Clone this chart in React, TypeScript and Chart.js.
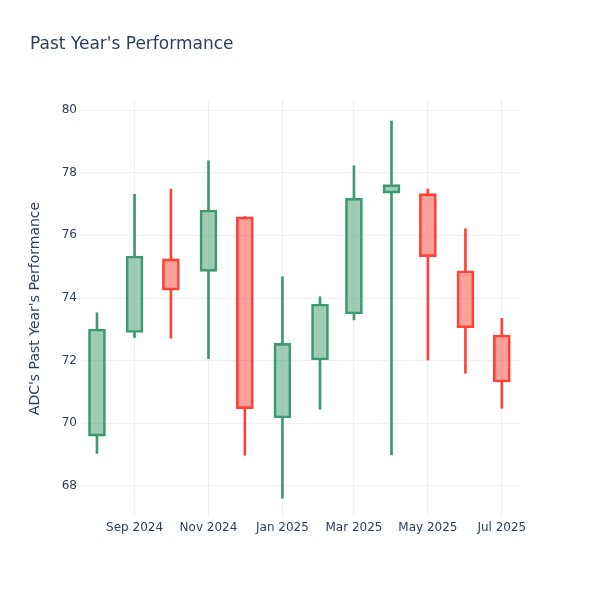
import React, { useEffect, useRef } from "react";
import { Chart, registerables } from "chart.js";

Chart.register(...registerables);

const dates = [
  "2024-08-01", "2024-09-01", "2024-10-01", "2024-11-01", "2024-12-01", "2025-01-01",
  "2025-02-01", "2025-03-01", "2025-04-01", "2025-05-01", "2025-06-01", "2025-07-01",
];
const openV = [69.59, 72.9, 75.25, 74.85, 76.59, 70.17, 72.02, 73.49, 77.35, 77.33, 74.87, 72.82];
const highV = [73.53, 77.31, 77.47, 78.38, 76.6, 74.68, 74.04, 78.22, 79.65, 77.48, 76.21, 73.35];
const lowV = [69.04, 72.74, 72.72, 72.06, 68.98, 67.61, 70.45, 73.3, 68.99, 72.02, 71.6, 70.48];
const closeV = [73.01, 75.34, 74.25, 76.81, 70.47, 72.55, 73.81, 77.19, 77.62, 75.32, 73.05, 71.32];

const xTickDates = ["2024-09-01", "2024-11-01", "2025-01-01", "2025-03-01", "2025-05-01", "2025-07-01"];
const xTickLabels = ["Sep 2024", "Nov 2024", "Jan 2025", "Mar 2025", "May 2025", "Jul 2025"];
const yTicks = [68, 70, 72, 74, 76, 78, 80];

const TITLE = "Past Year's Performance";
const Y_TITLE = "ADC's Past Year's Performance";

const GREEN = "#3D9970";
const GREEN_FILL = "rgba(61,153,112,0.5)";
const RED = "#FF4136";
const RED_FILL = "rgba(255,65,54,0.5)";
const TEXT = "#2a3f5f";
const GRID = "#ebf0f8";
const FONT = "'DejaVu Sans', sans-serif";

const toDay = (s: string) => {
  const [y, m, d] = s.split("-").map(Number);
  return Date.UTC(y, m - 1, d) / 86400000;
};

export default function App() {
  const ref = useRef<HTMLCanvasElement | null>(null);

  useEffect(() => {
    if (!ref.current) return;
    const days = dates.map(toDay);
    const up = openV.map((o, i) => closeV[i] >= o);
    const line = up.map((u) => (u ? GREEN : RED));
    const fill = up.map((u) => (u ? GREEN_FILL : RED_FILL));
    const bodies = days.map((x, i) => ({ x, y: [openV[i], closeV[i]] }));
    const upperW = days.map((x, i) => ({ x, y: [Math.max(openV[i], closeV[i]), highV[i]] }));
    const lowerW = days.map((x, i) => ({ x, y: [lowV[i], Math.min(openV[i], closeV[i])] }));
    const tickDays = xTickDates.map(toDay);

    const titles = {
      id: "titles",
      afterDraw(chart: any) {
        const ctx = chart.ctx;
        ctx.save();
        ctx.fillStyle = TEXT;
        ctx.font = `17px ${FONT}`;
        ctx.textAlign = "left";
        ctx.textBaseline = "middle";
        ctx.fillText(TITLE, 30, 45);
        ctx.translate(35, (chart.chartArea.top + chart.chartArea.bottom) / 2);
        ctx.rotate(-Math.PI / 2);
        ctx.font = `14px ${FONT}`;
        ctx.textAlign = "center";
        ctx.fillText(Y_TITLE, 0, 0);
        ctx.restore();
      },
    };

    const chart = new Chart(ref.current, {
      type: "bar",
      data: {
        datasets: [
          {
            data: bodies as any,
            backgroundColor: fill,
            borderColor: line,
            borderWidth: 2,
            borderSkipped: false,
            barThickness: 17,
            grouped: false,
          } as any,
          {
            data: upperW as any,
            backgroundColor: line,
            borderWidth: 0,
            barThickness: 2,
            grouped: false,
          } as any,
          {
            data: lowerW as any,
            backgroundColor: line,
            borderWidth: 0,
            barThickness: 2,
            grouped: false,
          } as any,
        ],
      },
      options: {
        animation: false,
        responsive: false,
        devicePixelRatio: 1,
        layout: { padding: { left: 0, top: 100, right: 80, bottom: 0 } },
        plugins: { legend: { display: false }, title: { display: false }, tooltip: { enabled: false } },
        scales: {
          x: {
            type: "linear",
            offset: false,
            min: toDay("2024-08-01") - 14,
            max: toDay("2025-07-01") + 15,
            afterBuildTicks: (s: any) => {
              s.ticks = tickDays.map((v) => ({ value: v }));
            },
            afterFit: (s: any) => {
              s.height = 83;
            },
            ticks: {
              color: TEXT,
              font: { family: FONT, size: 12 },
              padding: 4,
              maxRotation: 0,
              autoSkip: false,
              callback: (v: any) => {
                const i = tickDays.indexOf(Number(v));
                return i >= 0 ? xTickLabels[i] : "";
              },
            },
            grid: { color: GRID, lineWidth: 1, drawTicks: false, offset: false },
            border: { display: false },
          },
          y: {
            type: "linear",
            min: 67.01,
            max: 80.32,
            afterBuildTicks: (s: any) => {
              s.ticks = yTicks.map((v) => ({ value: v }));
            },
            afterFit: (s: any) => {
              s.width = 80;
            },
            ticks: {
              color: TEXT,
              font: { family: FONT, size: 12 },
              padding: 3,
              callback: (v: any) => String(v),
            },
            grid: { color: GRID, lineWidth: 1, drawTicks: false },
            border: { display: false },
          },
        },
      } as any,
      plugins: [titles],
    });
    return () => chart.destroy();
  }, []);

  return (
    <div style={{ position: "absolute", left: 0, top: 0, width: 600, height: 600, background: "#fff" }}>
      <canvas ref={ref} width={600} height={600} style={{ width: 600, height: 600 }} />
    </div>
  );
}
